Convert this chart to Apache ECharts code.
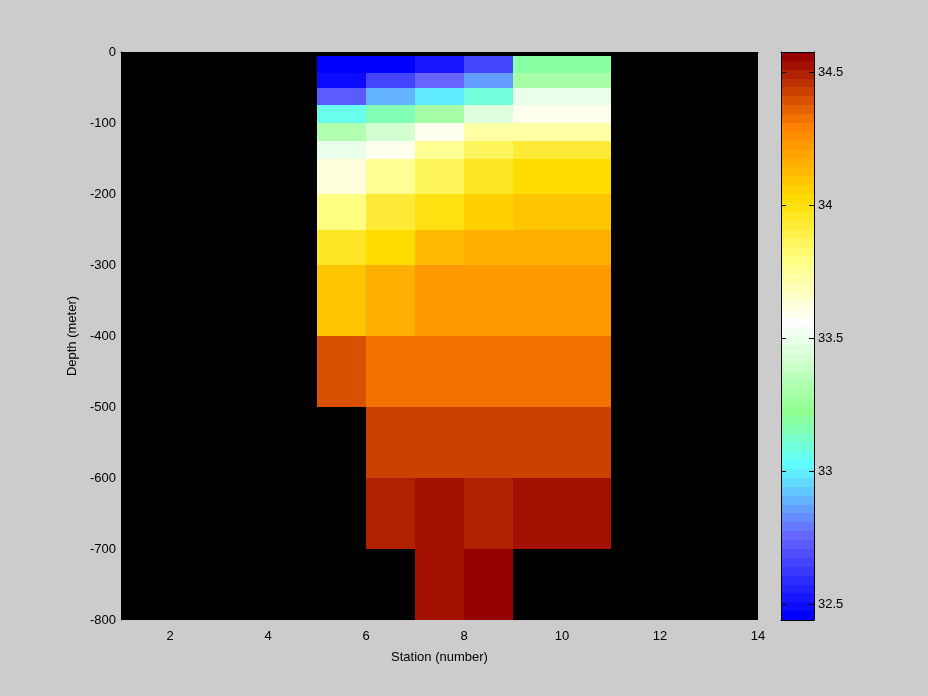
<!DOCTYPE html>
<html><head><meta charset="utf-8">
<script src="https://cdn.jsdelivr.net/npm/echarts@6/dist/echarts.min.js"></script>
<style>html,body{margin:0;padding:0;background:#cccccc;}#c{width:928px;height:696px;}</style>
</head><body><div id="c"></div>
<script>
// ---- data ----
const stationEdges = [5, 6, 7, 8, 9, 11];
const depthEdges = [-5, -30, -50, -75, -100, -125, -150, -200, -250, -300, -400, -500, -600, -700, -800];
// rows: depth layers (top to bottom); columns: station cells
const salinityRow1  = [32.46, 32.46, 32.52, 32.66, 33.19];
const salinityRow2  = [32.49, 32.66, 32.76, 32.86, 33.29];
const salinityRow3  = [32.72, 32.89, 32.99, 33.09, 33.49];
const salinityRow4  = [33.06, 33.16, 33.29, 33.46, 33.59];
const salinityRow5  = [33.32, 33.42, 33.59, 33.73, 33.73];
const salinityRow6  = [33.49, 33.59, 33.76, 33.86, 33.93];
const salinityRow7  = [33.62, 33.76, 33.86, 33.96, 34.03];
const salinityRow8  = [33.79, 33.93, 33.99, 34.06, 34.09];
const salinityRow9  = [33.96, 34.03, 34.12, 34.16, 34.16];
const salinityRow10 = [34.09, 34.16, 34.23, 34.23, 34.23];
const salinityRow11 = [34.39, 34.33, 34.33, 34.33, 34.33];
const salinityRow12 = [null,  34.43, 34.43, 34.43, 34.43];
const salinityRow13 = [null,  34.49, 34.53, 34.49, 34.53];
const salinityRow14 = [null,  null,  34.53, 34.56, null];
const salinityRows = [salinityRow1, salinityRow2, salinityRow3, salinityRow4, salinityRow5, salinityRow6, salinityRow7,
  salinityRow8, salinityRow9, salinityRow10, salinityRow11, salinityRow12, salinityRow13, salinityRow14];
const stationTicks = [2, 4, 6, 8, 10, 12, 14];
const colorbarTicks = [32.5, 33, 33.5, 34, 34.5];
const cMin = 32.44, cMax = 34.576;

// ---- colormap (style) ----
const cmapStops = [
  [0, [0, 0, 255]], [9, [102, 102, 255]], [17, [96, 255, 255]], [23, [144, 255, 144]],
  [33, [255, 255, 255]], [40, [255, 255, 129]], [47, [255, 220, 0]], [55, [255, 130, 0]], [63, [150, 0, 0]]
];
const NC = 64;
const colormap = [];
for (let i = 0; i < NC; i++) {
  let k = 0;
  while (k < cmapStops.length - 2 && i > cmapStops[k + 1][0]) k++;
  const a = cmapStops[k], b = cmapStops[k + 1];
  const t = (i - a[0]) / (b[0] - a[0]);
  const c = a[1].map((v, j) => Math.round(v + (b[1][j] - v) * t));
  colormap.push('rgb(' + c.join(',') + ')');
}
function colorOf(v) {
  let idx = Math.floor((v - cMin) / (cMax - cMin) * NC);
  idx = Math.max(0, Math.min(NC - 1, idx));
  return colormap[idx];
}

const cells = [];
salinityRows.forEach((row, r) => {
  row.forEach((v, c) => {
    if (v !== null) cells.push([stationEdges[c], stationEdges[c + 1], depthEdges[r], depthEdges[r + 1], v]);
  });
});
const barData = colormap.map((col, i) => [i]);

const font = 'Liberation Sans, Arial, Helvetica, sans-serif';
const chart = echarts.init(document.getElementById('c'));
chart.setOption({
  animation: false,
  backgroundColor: '#cccccc',
  grid: [
    {left: 121, top: 52, width: 637, height: 568, show: true, backgroundColor: '#000000', borderWidth: 0},
    {left: 781, top: 52, width: 33, height: 568, show: false}
  ],
  xAxis: [
    {gridIndex: 0, type: 'value', min: 1, max: 14,
     name: 'Station (number)', nameLocation: 'middle', nameGap: 31,
     nameTextStyle: {color: '#000', fontFamily: font, fontSize: 13},
     axisLine: {show: true, lineStyle: {color: '#000'}},
     axisTick: {show: false},
     splitLine: {show: false},
     axisLabel: {customValues: stationTicks, color: '#000', fontFamily: font, fontSize: 13, margin: 10}},
    {gridIndex: 1, type: 'value', min: 0, max: 1, position: 'bottom', z: 10,
     axisLine: {show: true, onZero: false, lineStyle: {color: '#000'}},
     axisTick: {show: false}, axisLabel: {show: false}, splitLine: {show: false}},
    {gridIndex: 1, type: 'value', min: 0, max: 1, position: 'top', z: 10,
     axisLine: {show: true, onZero: false, lineStyle: {color: '#000'}},
     axisTick: {show: false}, axisLabel: {show: false}, splitLine: {show: false}}
  ],
  yAxis: [
    {gridIndex: 0, type: 'value', min: -800, max: 0, interval: 100,
     name: 'Depth (meter)', nameLocation: 'middle', nameGap: 38, nameRotate: 90,
     nameTextStyle: {color: '#000', fontFamily: font, fontSize: 13},
     axisLine: {show: true, lineStyle: {color: '#000'}},
     axisTick: {show: false},
     splitLine: {show: false},
     axisLabel: {color: '#000', fontFamily: font, fontSize: 13, margin: 5}},
    {gridIndex: 1, type: 'value', min: cMin, max: cMax, position: 'right', z: 10,
     axisLine: {show: true, onZero: false, lineStyle: {color: '#000'}},
     axisTick: {show: true, inside: true, length: 5, customValues: colorbarTicks, lineStyle: {color: '#000'}},
     splitLine: {show: false},
     axisLabel: {customValues: colorbarTicks, color: '#000', fontFamily: font, fontSize: 13, margin: 4,
                 formatter: v => String(Math.round(v * 10) / 10)}},
    {gridIndex: 1, type: 'value', min: cMin, max: cMax, position: 'left', z: 10,
     axisLine: {show: true, onZero: false, lineStyle: {color: '#000'}},
     axisTick: {show: true, inside: true, length: 5, customValues: colorbarTicks, lineStyle: {color: '#000'}},
     splitLine: {show: false},
     axisLabel: {show: false}}
  ],
  series: [
    {type: 'custom', xAxisIndex: 0, yAxisIndex: 0, data: cells, encode: {x: [0, 1], y: [2, 3]},
     renderItem: function (params, api) {
       const p0 = api.coord([api.value(0), api.value(2)]);
       const p1 = api.coord([api.value(1), api.value(3)]);
       const x0 = Math.round(Math.min(p0[0], p1[0])), x1 = Math.round(Math.max(p0[0], p1[0]));
       const y0 = Math.round(Math.min(p0[1], p1[1])), y1 = Math.round(Math.max(p0[1], p1[1]));
       return {type: 'rect', shape: {x: x0, y: y0, width: x1 - x0, height: y1 - y0},
               style: {fill: colorOf(api.value(4)), stroke: null}};
     }},
    {type: 'custom', xAxisIndex: 1, yAxisIndex: 1, data: barData, z: 1,
     renderItem: function (params, api) {
       const i = api.value(0);
       const step = (cMax - cMin) / NC;
       const p0 = api.coord([0, cMin + i * step]);
       const p1 = api.coord([1, cMin + (i + 1) * step]);
       const x0 = Math.round(p0[0]), x1 = Math.round(p1[0]);
       const y0 = Math.round(Math.min(p0[1], p1[1])), y1 = Math.round(Math.max(p0[1], p1[1]));
       return {type: 'rect', shape: {x: x0, y: y0, width: x1 - x0, height: y1 - y0},
               style: {fill: colormap[i], stroke: null}};
     }}
  ]
});
</script></body></html>
